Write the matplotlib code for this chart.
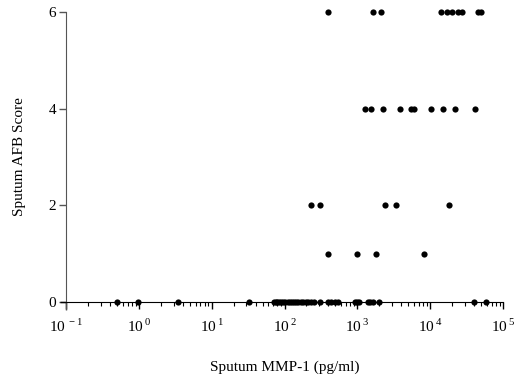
import numpy as np
import matplotlib
matplotlib.use("Agg")
import matplotlib.pyplot as plt
from matplotlib.ticker import FixedLocator, LogLocator, NullFormatter

plt.rcParams["font.family"] = ["Liberation Serif", "DejaVu Serif"]
plt.rcParams["mathtext.fontset"] = "custom"
plt.rcParams["mathtext.rm"] = "Liberation Serif"

# MMP-1 values (pg/ml) for each AFB score
mmp_score0 = [0.5, 0.97, 3.4, 33, 71, 76, 80, 85, 90, 96, 103, 110, 118, 126, 135,
              145, 155, 168, 180, 195, 210, 228, 250, 310, 390, 440, 500, 550,
              930, 1000, 1040, 1380, 1500, 1620, 2000, 40000, 59000]
mmp_score1 = [400, 1000, 1820, 8300]
mmp_score2 = [228, 310, 2400, 3400, 18200]
mmp_score4 = [1290, 1550, 2270, 3900, 5370, 5900, 10300, 15000, 21600, 41700]
mmp_score6 = [400, 1660, 2130, 14100, 17000, 20000, 24000, 27500, 45700, 50000]

scores = [0, 1, 2, 4, 6]
x_ticks = [1e-1, 1e0, 1e1, 1e2, 1e3, 1e4, 1e5]
x_tick_labels = ["10$^{\\,-1}$", "10$^{\\,0}$", "10$^{\\,1}$", "10$^{\\,2}$",
                 "10$^{\\,3}$", "10$^{\\,4}$", "10$^{\\,5}$"]
y_ticks = [0, 2, 4, 6]

fig = plt.figure(figsize=(5.17, 3.81), dpi=100)
ax = fig.add_axes([0.1277, 0.2073, 0.8453, 0.7612])

groups = [mmp_score0, mmp_score1, mmp_score2, mmp_score4, mmp_score6]
for s, xs in zip(scores, groups):
    ax.scatter(xs, [s] * len(xs), s=20, color="black", zorder=3, clip_on=False,
               linewidths=0)

ax.set_xscale("log")
ax.set_xlim(1e-1, 1e5)
ax.set_ylim(0, 6)

axis_col = "#555555"
for side in ["top", "right"]:
    ax.spines[side].set_visible(False)
ax.spines["left"].set_color(axis_col)
ax.spines["bottom"].set_color("black")

# prism-style crossing: axes run a little past the origin
ax.plot([0, 0], [0, -0.028], transform=ax.transAxes, color=axis_col,
        lw=1, clip_on=False, solid_capstyle="butt")
ax.plot([-0.014, 0], [0, 0], transform=ax.transAxes, color="black",
        lw=1, clip_on=False, solid_capstyle="butt")

ax.xaxis.set_major_locator(FixedLocator(x_ticks))
ax.set_xticklabels(x_tick_labels)
ax.xaxis.set_minor_locator(LogLocator(base=10, subs=np.arange(2, 10)))
ax.xaxis.set_minor_formatter(NullFormatter())
ax.set_yticks(y_ticks)

ax.tick_params(axis="x", which="major", length=5, width=1, direction="out",
               labelsize=11, pad=6, color="black")
ax.tick_params(axis="x", which="minor", length=3, width=0.8, direction="out",
               color="black")
ax.tick_params(axis="y", which="major", length=5, width=1, direction="out",
               labelsize=11, pad=2, color=axis_col)

ax.set_xlabel("Sputum MMP-1 (pg/ml)", fontsize=11, labelpad=19)
ax.set_ylabel("Sputum AFB Score", fontsize=11, labelpad=16)

fig.savefig("out.png", dpi=100)
